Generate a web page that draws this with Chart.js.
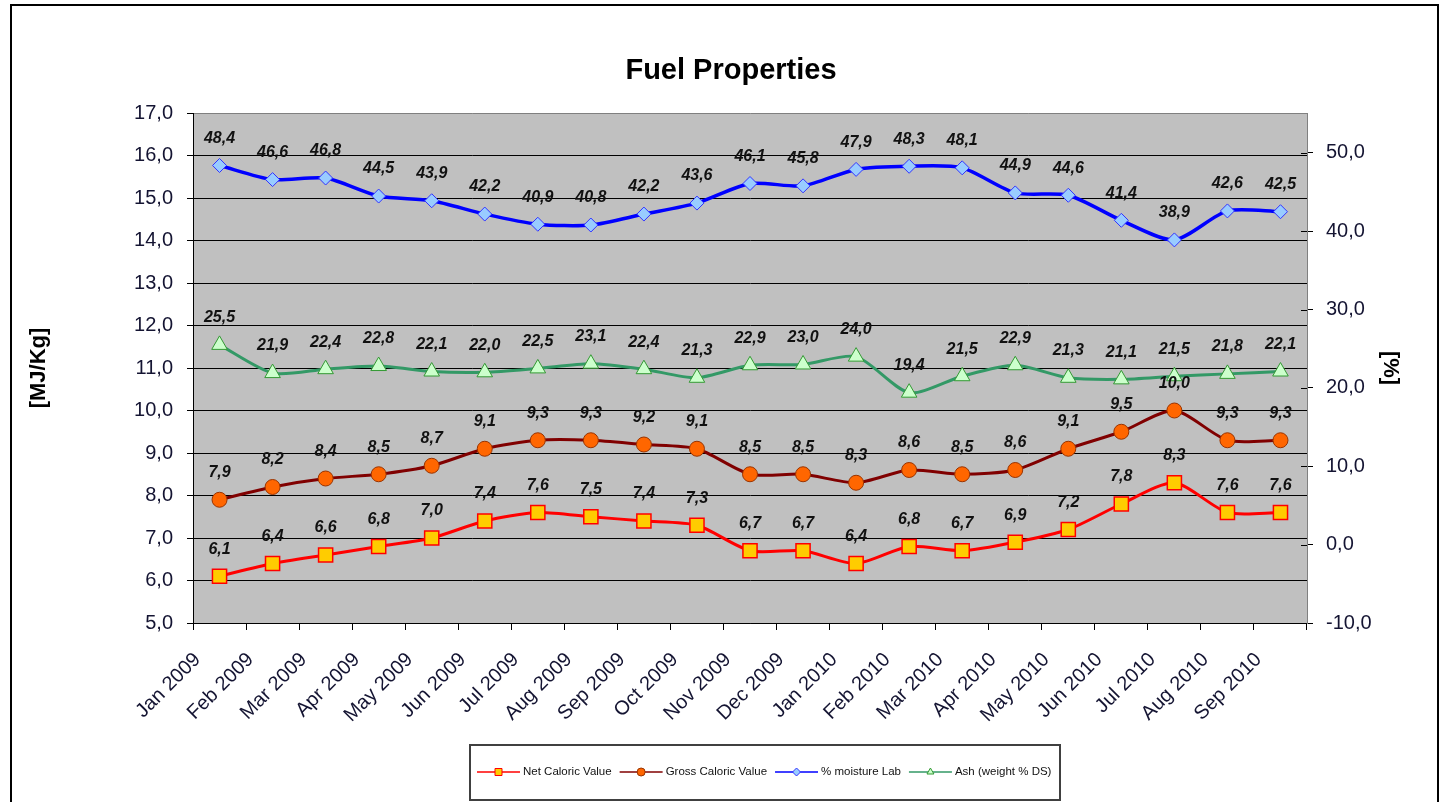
<!DOCTYPE html>
<html lang="en">
<head>
<meta charset="UTF-8">
<title>Fuel Properties</title>
<script src="https://cdn.jsdelivr.net/npm/chart.js"></script>
<style>
    html, body { margin: 0; padding: 0; background: #fff; }
    canvas { display: block; }
</style>
</head>
<body>
<canvas id="fuelChart" width="1441" height="802"></canvas>
<script>
    // monthly values
    const months = ['Jan 2009', 'Feb 2009', 'Mar 2009', 'Apr 2009', 'May 2009', 'Jun 2009', 'Jul 2009',
        'Aug 2009', 'Sep 2009', 'Oct 2009', 'Nov 2009', 'Dec 2009', 'Jan 2010', 'Feb 2010',
        'Mar 2010', 'Apr 2010', 'May 2010', 'Jun 2010', 'Jul 2010', 'Aug 2010', 'Sep 2010'];
    const netCaloric = [6.1, 6.4, 6.6, 6.8, 7.0, 7.4, 7.6, 7.5, 7.4, 7.3, 6.7, 6.7, 6.4, 6.8, 6.7, 6.9, 7.2, 7.8, 8.3, 7.6, 7.6];
    const grossCaloric = [7.9, 8.2, 8.4, 8.5, 8.7, 9.1, 9.3, 9.3, 9.2, 9.1, 8.5, 8.5, 8.3, 8.6, 8.5, 8.6, 9.1, 9.5, 10.0, 9.3, 9.3];
    const moistureLab = [48.4, 46.6, 46.8, 44.5, 43.9, 42.2, 40.9, 40.8, 42.2, 43.6, 46.1, 45.8, 47.9, 48.3, 48.1, 44.9, 44.6, 41.4, 38.9, 42.6, 42.5];
    const ashContent = [25.5, 21.9, 22.4, 22.8, 22.1, 22.0, 22.5, 23.1, 22.4, 21.3, 22.9, 23.0, 24.0, 19.4, 21.5, 22.9, 21.3, 21.1, 21.5, 21.8, 22.1];
    const rightTicks = [-10, 0, 10, 20, 30, 40, 50];

    const FONT = "'Liberation Sans', Arial, sans-serif";
    Chart.defaults.font.family = FONT;

    // 6.1 -> "6,1"
    const fmt = v => Number(v).toFixed(1).replace('.', ',');

    function drawMarker(ctx, style, x, y, r, fill, stroke) {
        ctx.beginPath();
        if (style === 'rect') {
            ctx.rect(x - r, y - r, 2 * r, 2 * r);
        } else if (style === 'circle') {
            ctx.arc(x, y, r, 0, Math.PI * 2);
        } else if (style === 'rectRot') {
            ctx.moveTo(x - r, y); ctx.lineTo(x, y - r); ctx.lineTo(x + r, y); ctx.lineTo(x, y + r);
            ctx.closePath();
        } else {
            ctx.moveTo(x, y - r); ctx.lineTo(x + r * 0.87, y + r * 0.5); ctx.lineTo(x - r * 0.87, y + r * 0.5);
            ctx.closePath();
        }
        ctx.fillStyle = fill;
        ctx.fill();
        ctx.lineWidth = 1;
        ctx.strokeStyle = stroke;
        ctx.stroke();
    }

    // grey plot area + outer frame
    const background = {
        id: 'background',
        beforeDraw(chart) {
            const { ctx, chartArea: a } = chart;
            ctx.save();
            ctx.fillStyle = '#fff';
            ctx.fillRect(0, 0, chart.width, chart.height);
            ctx.fillStyle = '#c0c0c0';
            ctx.fillRect(a.left, a.top, a.right - a.left, a.bottom - a.top);
            ctx.strokeStyle = '#000';
            ctx.lineWidth = 2;
            ctx.strokeRect(11, 5, 1427, 805);
            ctx.restore();
        }
    };

    // values above each point
    const valueLabels = {
        id: 'valueLabels',
        afterDatasetsDraw(chart) {
            const ctx = chart.ctx;
            ctx.save();
            ctx.font = 'italic bold 16px ' + FONT;
            ctx.fillStyle = '#111';
            ctx.textAlign = 'center';
            ctx.textBaseline = 'middle';
            chart.data.datasets.forEach((ds, i) => {
                chart.getDatasetMeta(i).data.forEach((pt, j) => {
                    ctx.fillText(fmt(ds.data[j]), pt.x, pt.y - 27);
                });
            });
            ctx.restore();
        }
    };

    // title, boxed legend, inner ticks of the right axis
    const extras = {
        id: 'extras',
        afterDraw(chart) {
            const ctx = chart.ctx;
            ctx.save();
            ctx.fillStyle = '#000';
            ctx.font = 'bold 29px ' + FONT;
            ctx.textAlign = 'center';
            ctx.textBaseline = 'middle';
            ctx.fillText('Fuel Properties', 731, 71);

            const y2 = chart.scales.y2;
            ctx.strokeStyle = '#000';
            ctx.lineWidth = 1;
            rightTicks.forEach(v => {
                const py = Math.round(y2.getPixelForValue(v)) + 0.5;
                ctx.beginPath();
                ctx.moveTo(y2.left - 6, py);
                ctx.lineTo(y2.left, py);
                ctx.stroke();
            });

            ctx.strokeStyle = '#404040';
            ctx.lineWidth = 2;
            ctx.strokeRect(470, 745, 590, 55);

            ctx.font = '11.5px ' + FONT;
            ctx.textAlign = 'left';
            let x = 477;
            const ly = 772;
            chart.data.datasets.forEach(ds => {
                ctx.strokeStyle = ds.borderColor;
                ctx.lineWidth = 1.5;
                ctx.beginPath();
                ctx.moveTo(x, ly);
                ctx.lineTo(x + 43, ly);
                ctx.stroke();
                drawMarker(ctx, ds.pointStyle, x + 21.5, ly, ds.pointStyle === 'rect' ? 3.5 : 4,
                    ds.pointBackgroundColor, ds.pointBorderColor);
                ctx.fillStyle = '#111';
                ctx.fillText(ds.label, x + 46, ly);
                x += 46 + ctx.measureText(ds.label).width + 8;
            });
            ctx.restore();
        }
    };

    const tickFont = { size: 20 };
    const tickColor = '#141432';

    new Chart(document.getElementById('fuelChart'), {
        type: 'line',
        data: {
            labels: months,
            datasets: [
                {
                    label: 'Net Caloric Value',
                    data: netCaloric,
                    yAxisID: 'y',
                    borderColor: '#ff0000',
                    borderWidth: 3,
                    pointStyle: 'rect',
                    pointRadius: 10,
                    pointBackgroundColor: '#ffcc00',
                    pointBorderColor: '#ff0000',
                    pointBorderWidth: 1.5,
                    tension: 0.25
                },
                {
                    label: 'Gross Caloric Value',
                    data: grossCaloric,
                    yAxisID: 'y',
                    borderColor: '#800000',
                    borderWidth: 3,
                    pointStyle: 'circle',
                    pointRadius: 7.5,
                    pointBackgroundColor: '#ff6600',
                    pointBorderColor: '#993300',
                    pointBorderWidth: 1,
                    tension: 0.25
                },
                {
                    label: '% moisture Lab',
                    data: moistureLab,
                    yAxisID: 'y2',
                    borderColor: '#0000ff',
                    borderWidth: 3.5,
                    pointStyle: 'rectRot',
                    pointRadius: 7,
                    pointBackgroundColor: '#99ccff',
                    pointBorderColor: '#3333ff',
                    pointBorderWidth: 1,
                    tension: 0.25
                },
                {
                    label: 'Ash (weight % DS)',
                    data: ashContent,
                    yAxisID: 'y2',
                    borderColor: '#339966',
                    borderWidth: 3,
                    pointStyle: 'triangle',
                    pointRadius: 9,
                    pointBackgroundColor: '#ccffcc',
                    pointBorderColor: '#339933',
                    pointBorderWidth: 1,
                    tension: 0.25
                }
            ]
        },
        options: {
            responsive: false,
            animation: false,
            layout: { padding: { left: 11, right: 3, top: 113, bottom: 0 } },
            plugins: {
                legend: { display: false },
                tooltip: { enabled: false },
                title: { display: false }
            },
            scales: {
                x: {
                    offset: true,
                    border: { color: '#000', width: 1 },
                    grid: { drawOnChartArea: false, drawTicks: true, tickLength: 7, color: '#000', offset: true },
                    ticks: {
                        minRotation: 45, maxRotation: 45, autoSkip: false,
                        padding: 18, labelOffset: -22, color: tickColor, font: tickFont
                    },
                    afterFit: s => { s.height = 179; }
                },
                y: {
                    position: 'left',
                    min: 5,
                    max: 17,
                    border: { color: '#000', width: 1 },
                    grid: {
                        color: c => (c.tick && c.tick.value === 17 ? '#808080' : '#000'),
                        tickColor: '#000',
                        tickLength: 6
                    },
                    ticks: { stepSize: 1, padding: 14, callback: v => fmt(v), color: tickColor, font: tickFont },
                    title: {
                        display: true, text: '[MJ/Kg]', color: '#000',
                        font: { size: 22, weight: 'bold' }, padding: { top: 15, bottom: 0 }
                    },
                    afterFit: s => { s.width = 182; }
                },
                y2: {
                    position: 'right',
                    min: -10,
                    max: 55.1,
                    border: { color: '#808080', width: 1 },
                    grid: { drawOnChartArea: false, tickLength: 6, color: '#000', tickColor: '#000' },
                    ticks: { padding: 13, callback: v => fmt(v), color: tickColor, font: tickFont },
                    afterBuildTicks: s => { s.ticks = rightTicks.map(v => ({ value: v })); },
                    title: {
                        display: true, text: '[%]', color: '#000',
                        font: { size: 22, weight: 'bold' }, padding: { top: 35, bottom: 0 }
                    },
                    afterFit: s => { s.width = 131; }
                }
            }
        },
        plugins: [background, valueLabels, extras]
    });
</script>
</body>
</html>
